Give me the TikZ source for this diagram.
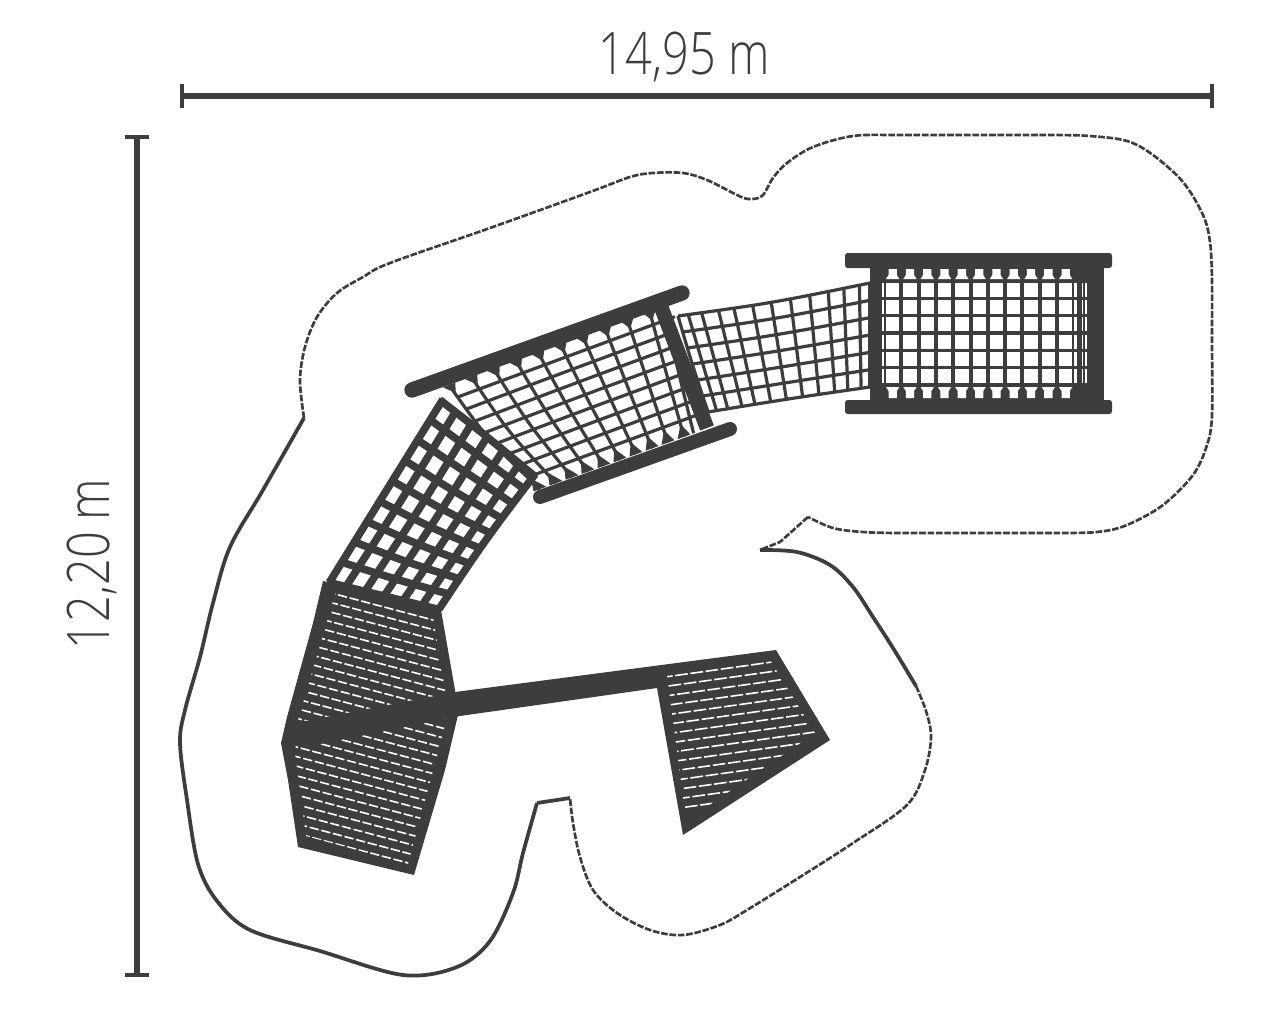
\documentclass[tikz,border=0pt]{standalone}
\usepackage{fontspec}
\usetikzlibrary{calc}
\usetikzlibrary{arrows.meta}
\newfontfamily\dimfont[FakeStretch=.8,UprightFont={* Light}]{Open Sans}
\definecolor{plangray}{RGB}{61,61,61}
\tikzset{
 dimline/.style={plangray, line width=4.5pt, {Bar[width=18pt,line width=3pt]}-{Bar[width=18pt,line width=3pt]}},
 dimlabel/.style={plangray, font=\dimfont\fontsize{44}{44}\selectfont, inner sep=0},
 zonedash/.style={plangray, line width=2pt, dash pattern=on 5pt off 1.3pt},
 zonesolid/.style={plangray, line width=2.8pt},
 netthin/.style={plangray, line width=2.4pt},
 netthick/.style={plangray, line width=5.7pt},
 framebar/.style={plangray, line width=11.5pt, line cap=round},
 slat/.style={white, line width=1.2pt, dash pattern=on 7pt off 2pt},
}
\newcommand{\netpoint}[5]{\coordinate (#1) at ($($(#2)!#5!(#3)$)!#5!($(#3)!#5!(#4)$)$);}
\newcommand{\netcols}[3]{\foreach \t in {#3} {
 \netpoint{p}{#211}{#212}{#213}{\t}
 \netpoint{q}{#221}{#222}{#223}{\t}
 \netpoint{r}{#231}{#232}{#233}{\t}
 \draw[#1] (p) .. controls (q) .. (r);
}}
\newcommand{\netrows}[3]{\foreach \t in {#3} {
 \netpoint{p}{#211}{#221}{#231}{\t}
 \netpoint{q}{#212}{#222}{#232}{\t}
 \netpoint{r}{#213}{#223}{#233}{\t}
 \draw[#1] (p) .. controls (q) .. (r);
}}
\begin{document}
\begin{tikzpicture}[x=.75pt, y=-.75pt]
\useasboundingbox (0,0) rectangle (1277,1017);

\coordinate (wl) at (179.5,96);
\coordinate (wr) at (1213.5,96);
\coordinate (ht) at (137,134.5);
\coordinate (hb) at (137,976.5);
\draw[dimline] (wl)--(wr);
\draw[dimline] (ht)--(hb);
\node[dimlabel] (wlabel) at (684,57) {14,95 m};
\node[dimlabel, rotate=90] (hlabel) at (92,564) {12,20 m};

\draw[zonedash] plot[smooth, tension=.55] coordinates {(304,418) (300,380) (305,347) (317,317) (337,293) (363,277) (390,263) (490,228) (590,192) (630,177) (653,173) (683,173) (707,180) (737,195) (748,199) (762,196) (773,178) (787,163) (813,147) (853,136) (900,135) (980,135) (1050,135) (1090,136) (1127,141) (1153,155) (1183,182) (1203,215) (1210,242) (1212,280) (1212,340) (1212,415) (1207,445) (1193,475) (1163,505) (1127,525) (1097,532) (1050,533) (980,533) (900,533) (863,532) (833,528) (808,517)};
\draw[zonedash] (808,517)--(780,542)--(760,550);
\draw[zonesolid] plot[smooth, tension=.55] coordinates {(760,550) (797,552) (830,565) (853,587) (873,617) (893,648) (916,686)};
\draw[zonedash] plot[smooth, tension=.55] coordinates {(916,686) (926,711) (931,737) (925,770) (907,805) (853,843) (800,877) (747,910) (720,925) (683,935) (650,930) (617,913) (593,890) (580,857) (573,823) (570,798)};
\draw[zonesolid] (570,798)--(537,803);
\draw[zonesolid] plot[smooth, tension=.55] coordinates {(537,803) (523,853) (513,893) (490,941) (457,967) (403,975) (320,951) (250,930) (217,901) (198,864) (187,800) (180,743) (185,710) (200,657) (213,603) (230,547) (263,490) (304,418)};

\coordinate (C11) at (678,316); \coordinate (C12) at (772,303); \coordinate (C13) at (870,283);
\coordinate (C21) at (692,364); \coordinate (C22) at (780,351); \coordinate (C23) at (870,335);
\coordinate (C31) at (708,412); \coordinate (C32) at (787,399); \coordinate (C33) at (870,387);
\netrows{netthin}{C}{0,.1667,.3333,.5,.6667,.8333,1}
\netcols{netthin}{C}{0,.054,.125,.214,.295,.393,.49,.59,.69,.786,.866,.946,1}

\coordinate (M11) at (449,385); \coordinate (M12) at (560,344); \coordinate (M13) at (672,303);
\coordinate (M21) at (488,440); \coordinate (M22) at (590,400); \coordinate (M23) at (685,365);
\coordinate (M31) at (540,489); \coordinate (M32) at (620,460); \coordinate (M33) at (700,431);
\netcols{netthin}{M}{0,.1,.2,.3,.4,.5,.6,.7,.8,.9,.96}
\netrows{netthin}{M}{.11,.22,.33,.44,.55,.66,.77,.88}
\foreach \t in {0,.1,...,.91} {
 \pgfmathsetmacro\ta{\t-.028}
 \pgfmathsetmacro\tb{\t+.028}
 \pgfmathsetmacro\tc{\t-.04}
 \pgfmathsetmacro\td{\t+.04}
 \netpoint{a}{M11}{M12}{M13}{\ta}
 \netpoint{b}{M11}{M12}{M13}{\t}
 \netpoint{c}{M11}{M12}{M13}{\tb}
 \netpoint{d}{M31}{M32}{M33}{\tc}
 \netpoint{e}{M31}{M32}{M33}{\t}
 \netpoint{f}{M31}{M32}{M33}{\td}
 \fill[plangray] (a)--($(b)!.075!(e)$)--(c)--cycle;
 \fill[plangray] (d)--($(e)!.1!(b)$)--(f)--cycle;
}
\draw[framebar, line width=11pt, line cap=butt] (660,304)--(707,428);
\draw[framebar] (412,390)--(682,293);
\draw[framebar, line width=10.5pt] (540,497)--(730,429);

\coordinate (L11) at (441,398); \coordinate (L12) at (487,434); \coordinate (L13) at (537,476);
\coordinate (L21) at (384,490); \coordinate (L22) at (437,522); \coordinate (L23) at (487,541);
\coordinate (L31) at (327,582); \coordinate (L32) at (384,596); \coordinate (L33) at (441,610);
\netcols{netthick}{L}{.02,.1667,.3333,.5,.6667,.8333,.98}
\netrows{netthick}{L}{.01,.1111,.2222,.3333,.4444,.5556,.6667,.7778,.8889,1}

\fill[plangray] (323,581)--(441,610)--(455,690)--(458,715)--(445,770)--(414,875)--(298,847)--(288,780)--(281,743)--(287,717)--(300,670)--(313,623)--cycle;
\begin{scope}
\clip (336,591)--(433,617)--(447,702)--(444,730)--(408,864)--(306,836)--(295,753)--(298,720)--cycle;
\foreach \k in {0,...,26} {
 \pgfmathsetmacro\ph{mod(\k*7,9)}
 \draw[slat, dash phase=\ph pt] (280,{594+9.6*\k-.265*55})--(470,{594+9.6*\k+.265*135});
}
\end{scope}
\fill[plangray] (776,650)--(830,740)--(683,835)--(657,688)--(460,716)--(305,747)--(282,742)--(300,722)--(455,692)--cycle;
\begin{scope}
\clip (667,675)--(770,660)--(815,733)--(705,808)--(685,812)--cycle;
\foreach \k in {0,...,15} {
 \pgfmathsetmacro\ph{mod(\k*5,11)}
 \draw[slat, dash phase=\ph pt, dash pattern=on 9.5pt off 2pt] (660,{677.7+9.5*\k})--(830,{677.7+9.5*\k-.14*170});
}
\end{scope}

\fill[plangray] (870,253) rectangle (1104,414);
\fill[plangray, rounded corners=2] (845,253) rectangle (1112,268);
\fill[plangray, rounded corners=2] (845,400) rectangle (1112,414);
\foreach \c in {0,...,10} {
 \foreach \r in {0,...,5} {
  \fill[white] ({886+17.3*\c},{283+17.2*\r}) rectangle ++(13.3,14);
 }
 \fill[white] ({888.5+17.3*\c},269)--({896.8+17.3*\c},269)--({896.8+17.3*\c},275)--({899.3+17.3*\c},279)--({886+17.3*\c},279)--({888.5+17.3*\c},275)--cycle;
 \fill[white] ({888.5+17.3*\c},398)--({896.8+17.3*\c},398)--({896.8+17.3*\c},391)--({899.3+17.3*\c},387)--({886+17.3*\c},387)--({888.5+17.3*\c},391)--cycle;
}
\foreach \r in {0,...,5} {
 \foreach \c/\w in {882/1.6,1074/3.2,1081.7/1.6,1085/2.4} {
  \fill[white] (\c,{283+17.2*\r}) rectangle ++(\w,14);
 }
}
\end{tikzpicture}
\end{document}
